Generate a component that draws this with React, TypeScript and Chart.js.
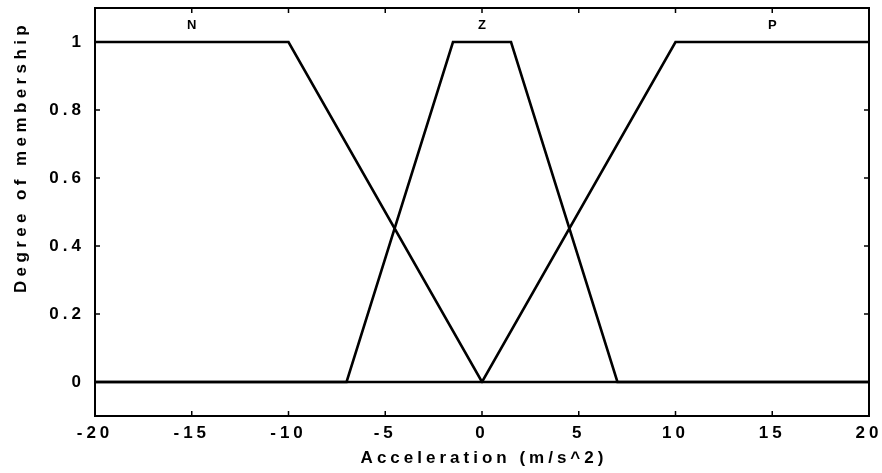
import React, { useEffect, useRef } from "react";
import { Chart, registerables } from "chart.js";

Chart.register(...registerables);

// Membership function breakpoints (acceleration, m/s^2) and degrees
const nX = [-20, -10, 0, 20];
const nY = [1, 1, 0, 0];
const zX = [-20, -7, -1.5, 1.5, 7, 20];
const zY = [0, 0, 1, 1, 0, 0];
const pX = [-20, 0, 10, 20];
const pY = [0, 0, 1, 1];

// Fuzzy set names and where they sit along the axis
const setNames = ["N", "Z", "P"];
const setCenters = [-15, 0, 15];
const setLabelLevel = 1.05;

const xTicks = [-20, -15, -10, -5, 0, 5, 10, 15, 20];
const yTicks = [0, 0.2, 0.4, 0.6, 0.8, 1];

const xTitle = "Acceleration (m/s^2)";
const yTitle = "Degree of membership";

const FONT = "'Liberation Sans', Arial, sans-serif";

const toPoints = (xs: number[], ys: number[]) => xs.map((x, i) => ({ x, y: ys[i] }));

const framePlugin = {
  id: "frame",
  beforeDraw(chart: any) {
    (chart.ctx as any).letterSpacing = "4px";
  },
  afterDraw(chart: any) {
    const { ctx, chartArea: a, scales } = chart;
    const xs = scales.x;
    const ys = scales.y;
    ctx.save();
    ctx.strokeStyle = "#000";
    ctx.lineWidth = 2;
    ctx.strokeRect(a.left, a.top, a.right - a.left, a.bottom - a.top);
    const tl = 5;
    ctx.beginPath();
    xTicks.forEach((v) => {
      const px = xs.getPixelForValue(v);
      ctx.moveTo(px, a.bottom);
      ctx.lineTo(px, a.bottom - tl);
      ctx.moveTo(px, a.top);
      ctx.lineTo(px, a.top + tl);
    });
    yTicks.forEach((v) => {
      const py = ys.getPixelForValue(v);
      ctx.moveTo(a.left, py);
      ctx.lineTo(a.left + tl, py);
      ctx.moveTo(a.right, py);
      ctx.lineTo(a.right - tl, py);
    });
    ctx.lineWidth = 1.5;
    ctx.stroke();

    ctx.fillStyle = "#000";
    (ctx as any).letterSpacing = "0px";
    ctx.font = `bold 13px ${FONT}`;
    ctx.textAlign = "center";
    ctx.textBaseline = "middle";
    setNames.forEach((name, i) => {
      ctx.fillText(name, xs.getPixelForValue(setCenters[i]), ys.getPixelForValue(setLabelLevel));
    });

    (ctx as any).letterSpacing = "4px";
    ctx.font = `bold 17px ${FONT}`;
    ctx.fillText(xTitle, (a.left + a.right) / 2 + 2, 458);
    (ctx as any).letterSpacing = "4.4px";
    ctx.translate(21, 159);
    ctx.rotate(-Math.PI / 2);
    ctx.fillText(yTitle, 2, 0);
    ctx.restore();
  },
};

export default function App() {
  const ref = useRef<HTMLCanvasElement>(null);

  useEffect(() => {
    if (!ref.current) return;
    const line = { borderColor: "#000", borderWidth: 2.6, pointRadius: 0, fill: false, tension: 0 };
    const chart = new Chart(ref.current, {
      type: "line",
      data: {
        datasets: [
          { label: "N", data: toPoints(nX, nY), ...line },
          { label: "Z", data: toPoints(zX, zY), ...line },
          { label: "P", data: toPoints(pX, pY), ...line },
        ],
      },
      options: {
        responsive: false,
        animation: false,
        layout: { padding: { left: 0, right: 13, top: 8, bottom: 0 } },
        plugins: { legend: { display: false }, tooltip: { enabled: false } },
        scales: {
          x: {
            type: "linear",
            min: -20,
            max: 20,
            afterBuildTicks: (s: any) => {
              s.ticks = xTicks.map((value) => ({ value }));
            },
            afterFit: (s: any) => {
              s.height = 57;
              s.paddingLeft = 0;
              s.paddingRight = 0;
            },
            grid: { display: false, drawTicks: false },
            border: { display: false },
            ticks: {
              color: "#000",
              padding: 7,
              maxRotation: 0,
              font: { family: FONT, size: 17, weight: "bold" },
            },
          },
          y: {
            type: "linear",
            min: -0.1,
            max: 1.1,
            afterBuildTicks: (s: any) => {
              s.ticks = yTicks.map((value) => ({ value }));
            },
            afterFit: (s: any) => {
              s.width = 95;
              s.paddingTop = 0;
              s.paddingBottom = 0;
            },
            grid: { display: false, drawTicks: false },
            border: { display: false },
            ticks: {
              color: "#000",
              padding: 10,
              font: { family: FONT, size: 17, weight: "bold" },
              callback: (v: any) => String(Number(v)),
            },
          },
        },
      },
      plugins: [framePlugin],
    });
    return () => chart.destroy();
  }, []);

  return (
    <div style={{ position: "absolute", left: 0, top: 0, width: 882, height: 473, background: "#fff" }}>
      <canvas ref={ref} width={882} height={473} style={{ display: "block" }} />
    </div>
  );
}
